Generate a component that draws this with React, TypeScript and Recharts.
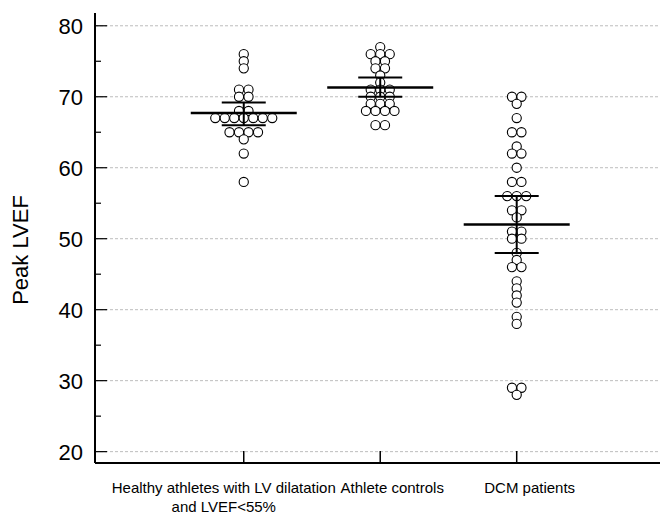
import React from 'react';
import { ScatterChart, Scatter, XAxis, YAxis, ReferenceLine, ErrorBar, Label } from 'recharts';

// ---- data ----
const categoryLines: string[][] = [
  ['Healthy athletes with LV dilatation', 'and LVEF<55%'],
  ['Athlete controls'],
  ['DCM patients'],
];
const healthyDilated = [76, 75, 74, 71, 71, 70, 70, 68, 68, 67, 67, 67, 67, 67, 67, 67, 65, 65, 65, 65, 64, 62, 58];
const athleteControls = [77, 76, 76, 76, 75, 75, 74, 74, 73, 72, 71, 71, 71, 70, 70, 70, 69, 69, 69, 68, 68, 68, 68, 66, 66];
const dcmPatients = [70, 70, 69, 67, 65, 65, 63, 62, 62, 60, 58, 58, 56, 56, 56, 54, 54, 53, 51, 51, 50, 50, 48, 47, 46, 46, 44, 43, 42, 41, 39, 38, 29, 29, 28];
const groupMeans = [67.7, 71.3, 52.0];
const groupCiLow = [66.0, 70.0, 48.0];
const groupCiHigh = [69.2, 72.7, 56.0];
const yTicks = [20, 25, 30, 35, 40, 45, 50, 55, 60, 65, 70, 75, 80];
const yGridValues = [20, 30, 40, 50, 60, 70, 80];
const xTicks = [1, 2, 3];

// ---- layout helpers ----
const X_DOMAIN: [number, number] = [-0.09, 4.05];
const Y_DOMAIN: [number, number] = [18.4, 81.8];
const PX_PER_UNIT = 136.5;
const DOT_SPACING_PX = 9.5;
const FONT = '"Liberation Sans", Arial, sans-serif';
const W = 662;
const H = 514;

function swarm(values: number[], group: number) {
  const counts = new Map<number, number>();
  values.forEach((v) => counts.set(v, (counts.get(v) || 0) + 1));
  const seen = new Map<number, number>();
  return values.map((v) => {
    const n = counts.get(v) || 1;
    const i = seen.get(v) || 0;
    seen.set(v, i + 1);
    return { x: group + ((i - (n - 1) / 2) * DOT_SPACING_PX) / PX_PER_UNIT, y: v };
  });
}

const dots = [
  ...swarm(healthyDilated, 1),
  ...swarm(athleteControls, 2),
  ...swarm(dcmPatients, 3),
];

const summary = groupMeans.map((m, i) => ({
  x: i + 1,
  y: m,
  err: [m - groupCiLow[i], groupCiHigh[i] - m],
}));

const DotShape = (props: any) => {
  const { cx, cy } = props;
  return <circle cx={cx} cy={cy} r={4.6} fill="#fff" stroke="#000" strokeWidth={1.1} />;
};

const MeanShape = (props: any) => {
  const { cx, cy } = props;
  return <line x1={cx - 53} x2={cx + 53} y1={cy} y2={cy} stroke="#000" strokeWidth={2.5} />;
};

const labelDx = [-20, 12, 13];

const XTick = (props: any) => {
  const { x, y, payload } = props;
  const idx = xTicks.indexOf(payload.value);
  const lines = categoryLines[idx] || [];
  const dx = labelDx[idx] ?? 0;
  return (
    <g>
      <line x1={x} x2={x} y1={y} y2={y - 12} stroke="#000" strokeWidth={1.5} />
      {lines.map((t, k) => (
        <text key={k} x={x + dx} y={y + 30 + k * 19} textAnchor="middle" fontSize={15} fill="#000" fontFamily={FONT}>
          {t}
        </text>
      ))}
    </g>
  );
};

const YTick = (props: any) => {
  const { x, y, payload } = props;
  const major = payload.value % 10 === 0;
  return (
    <g>
      <line x1={x} x2={x + (major ? 12 : 6)} y1={y} y2={y} stroke="#000" strokeWidth={1.2} />
      {major && (
        <text x={x - 12} y={y} dy="0.36em" textAnchor="end" fontSize={22} fill="#000" fontFamily={FONT}>
          {payload.value}
        </text>
      )}
    </g>
  );
};

const YLabel = () => (
  <text x={28} y={250} transform="rotate(-90 28 250)" textAnchor="middle" fontSize={22} fill="#000" fontFamily={FONT}>
    Peak LVEF
  </text>
);

export default function App() {
  return (
    <div style={{ position: 'absolute', left: 0, top: 0, width: W, height: H, background: '#fff' }}>
      <div style={{ position: 'absolute', left: 0, top: 0 }}>
        <ScatterChart width={W} height={H} margin={{ top: 13, right: 2, bottom: 0, left: 0 }} style={{ fontFamily: FONT }}>
          <XAxis
            type="number"
            dataKey="x"
            domain={X_DOMAIN}
            ticks={xTicks}
            allowDataOverflow
            interval={0}
            tickLine={false}
            tickSize={0}
            tickMargin={0}
            axisLine={{ stroke: '#000', strokeWidth: 2 }}
            tick={XTick}
            height={51}
          />
          <YAxis
            type="number"
            dataKey="y"
            domain={Y_DOMAIN}
            ticks={yTicks}
            allowDataOverflow
            interval={0}
            tickLine={false}
            tickSize={0}
            tickMargin={0}
            axisLine={{ stroke: '#000', strokeWidth: 2 }}
            tick={YTick}
            width={95}
          >
            <Label content={YLabel} />
          </YAxis>
          {yGridValues.map((v) => (
            <ReferenceLine key={v} y={v} stroke="#bdbdbd" strokeWidth={1} strokeDasharray="3 2" />
          ))}
          <Scatter data={dots} shape={DotShape} isAnimationActive={false} />
        </ScatterChart>
      </div>
      <div style={{ position: 'absolute', left: 0, top: 0, pointerEvents: 'none' }}>
        <ScatterChart width={W} height={H} margin={{ top: 13, right: 2, bottom: 51, left: 95 }}>
          <XAxis type="number" dataKey="x" domain={X_DOMAIN} allowDataOverflow hide />
          <YAxis type="number" dataKey="y" domain={Y_DOMAIN} allowDataOverflow hide />
          <Scatter data={summary} shape={MeanShape} isAnimationActive={false}>
            <ErrorBar dataKey="err" direction="y" width={22} stroke="#000" strokeWidth={2} isAnimationActive={false} />
          </Scatter>
        </ScatterChart>
      </div>
    </div>
  );
}
